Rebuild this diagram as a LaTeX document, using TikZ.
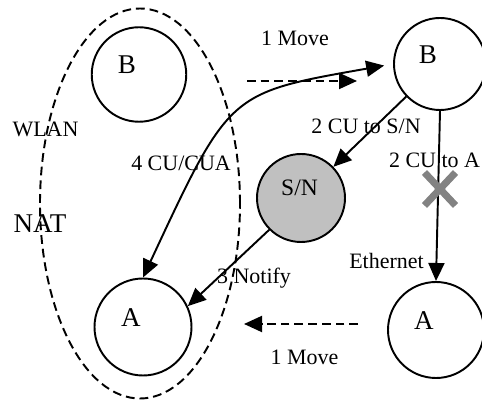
\documentclass[tikz,border=0pt]{standalone}
\usepackage{fontspec}
\setmainfont{Liberation Serif}
\usetikzlibrary{arrows.meta,shapes.misc}
\definecolor{sngray}{RGB}{192,192,192}
\definecolor{cutgray}{RGB}{130,130,130}

\begin{document}
\begin{tikzpicture}[
  line width=1.1pt,
  host/.style={draw, circle, inner sep=0pt},
  txt/.style={font=\fontsize{12.5}{15}\selectfont, inner sep=0pt},
  letter/.style={font=\fontsize{15.4}{18}\selectfont, inner sep=0pt},
  tip/.style={-{Triangle[length=3.6mm,width=3.2mm]}},
  move/.style={dash pattern=on 5pt off 2.8pt}
]
\useasboundingbox (0,0) rectangle (9.64,8);

% NAT area
\draw[move] (2.8,3.93) ellipse (2.0 and 3.9);

% Hosts
\node[host, minimum size=1.89cm] (B1) at (2.78,6.51) {};
\node[host, minimum size=1.84cm] (B2) at (8.80,6.72) {};
\node[host, fill=sngray, minimum size=1.76cm] (SN) at (6.02,4.04) {};
\node[host, minimum size=1.94cm] (A1) at (2.86,1.46) {};
\node[host, minimum size=1.92cm] (A2) at (8.72,1.40) {};

\foreach \n/\t in {B1/B, B2/B, A1/A, A2/A} {
    \node[letter] (\n-t) at ([shift={(-0.24,0.19)}]\n) {\t};
}
\node[font=\fontsize{13.4}{16}\selectfont, inner sep=0pt] (SN-t) at (5.99,4.24) {S/N};

% Messages
\draw[{Triangle[length=3.6mm,width=3.2mm]}-{Triangle[length=3.6mm,width=3.2mm]}, shorten >=0.18cm]
    (A1.north) to[out=65, in=190, out distance=4.1cm, in distance=3.34cm] (B2.west);
\draw[tip] (B2) -- (SN);
\draw[tip] (SN.225) -- (A1.25);
\draw[tip] (B2.south) -- (A2.north);

% Moves
\coordinate (mv1s) at (4.94,6.38);
\coordinate (mv1e) at (7.14,6.38);
\coordinate (mv2s) at (7.16,1.52);
\coordinate (mv2e) at (4.88,1.52);
\draw[move, tip] (mv1s) -- (mv1e);
\draw[move, tip] (mv2s) -- (mv2e);

% Cut link
\node[cross out, draw=cutgray, line width=4pt, minimum width=0.48cm, minimum height=0.52cm, inner sep=0pt] (cut) at (8.80,4.22) {};

% Labels
\node[txt] (move1) at (5.90,7.23) {1 Move};
\node[txt] (cusn) at (7.32,5.48) {2 CU to S/N};
\node[txt, anchor=east] (cua) at (9.62,4.80) {2 CU to A};
\node[txt] (wlan) at (0.91,5.41) {WLAN};
\node[txt] (cucua) at (3.62,4.74) {4 CU/CUA};
\node[letter] (nat) at (0.80,3.52) {NAT};
\node[txt] (eth) at (7.73,2.78) {Ethernet};
\node[txt] (notify) at (5.08,2.44) {3 Notify};
\node[txt] (move2) at (6.09,0.85) {1 Move};
\end{tikzpicture}
\end{document}
